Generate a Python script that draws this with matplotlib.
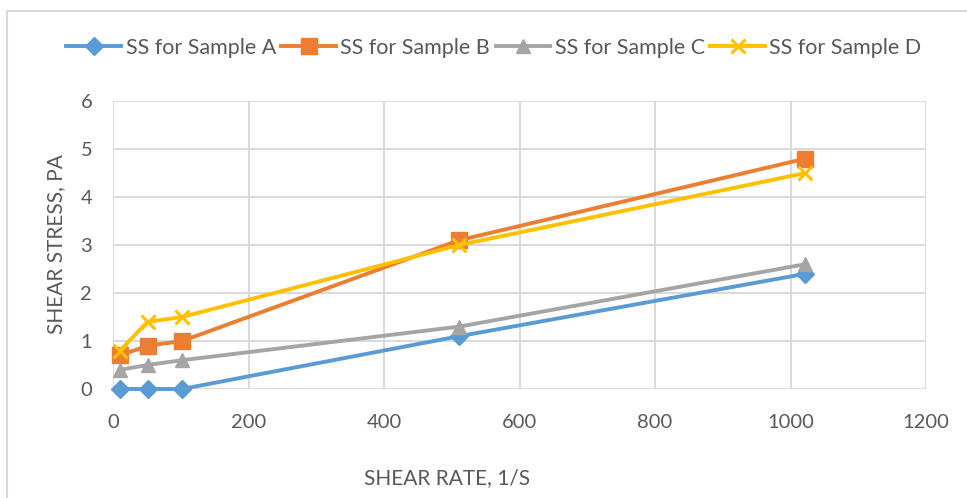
import matplotlib
matplotlib.use("Agg")
import matplotlib.pyplot as plt
from matplotlib.patches import Rectangle
from matplotlib import font_manager

# Shear rate (1/s) and shear stress (Pa) for each sample
shear_rate = [10.2, 51, 102, 511, 1022]
ss_sample_a = [0.0, 0.0, 0.0, 1.1, 2.4]
ss_sample_b = [0.7, 0.9, 1.0, 3.1, 4.8]
ss_sample_c = [0.4, 0.5, 0.6, 1.3, 2.6]
ss_sample_d = [0.8, 1.4, 1.5, 3.0, 4.5]
series_labels = ["SS for Sample A", "SS for Sample B", "SS for Sample C", "SS for Sample D"]
x_ticks = [0, 200, 400, 600, 800, 1000, 1200]
y_ticks = [0, 1, 2, 3, 4, 5, 6]

available = {f.name for f in font_manager.fontManager.ttflist}
family = "Lato" if "Lato" in available else "DejaVu Sans"
plt.rcParams["font.family"] = [family, "DejaVu Sans"]

text_color = "#595959"
grid_color = "#D9D9D9"
fs = 14.5

W, H = 967, 498
fig = plt.figure(figsize=(W / 100, H / 100), dpi=100)
fig.patch.set_facecolor("white")

# chart area border
fig.patches.append(Rectangle((7 / W, -0.1), 1.2, 1.1 - 11 / H, transform=fig.transFigure,
                             fill=False, edgecolor=grid_color, linewidth=1.5))

ax = fig.add_axes([113 / W, (H - 389) / H, (926 - 113) / W, (389 - 101) / H])
ax.set_xlim(0, 1200)
ax.set_ylim(0, 6)
ax.set_xticks(x_ticks)
ax.set_yticks(y_ticks)
ax.grid(True, color=grid_color, linewidth=1.4)
ax.set_axisbelow(True)
for s in ax.spines.values():
    s.set_visible(False)
ax.tick_params(length=0, labelsize=fs, labelcolor=text_color)
ax.tick_params(axis="x", pad=18)
ax.tick_params(axis="y", pad=15)

styles = [
    (ss_sample_a, "#5B9BD5", "D", 9, {}),
    (ss_sample_b, "#ED7D31", "s", 11, {}),
    (ss_sample_c, "#A5A5A5", "^", 10, {}),
    (ss_sample_d, "#FFC000", "x", 10, {"markeredgewidth": 2.2}),
]
handles = []
for (vals, col, mk, ms, extra), lab in zip(styles, series_labels):
    h, = ax.plot(shear_rate, vals, color=col, linewidth=2.8, marker=mk, markersize=ms,
                 markerfacecolor=col, markeredgecolor=col, label=lab, clip_on=False, **extra)
    handles.append(h)

fig.legend(handles=handles, loc="center", bbox_to_anchor=(494 / W, 1 - 48 / H), ncol=4,
           frameon=False, fontsize=15.5, labelcolor=text_color, handlelength=2.55,
           handletextpad=0.2, columnspacing=0.25, borderaxespad=0)

fig.text(447 / W, 1 - 478 / H, "SHEAR RATE, 1/S", ha="center", va="center",
         fontsize=15, color=text_color)
fig.text(56 / W, 1 - 244 / H, "SHEAR STRESS, PA", ha="center", va="center",
         rotation=90, fontsize=15, color=text_color)

fig.savefig("out.png", dpi=100, facecolor="white")
